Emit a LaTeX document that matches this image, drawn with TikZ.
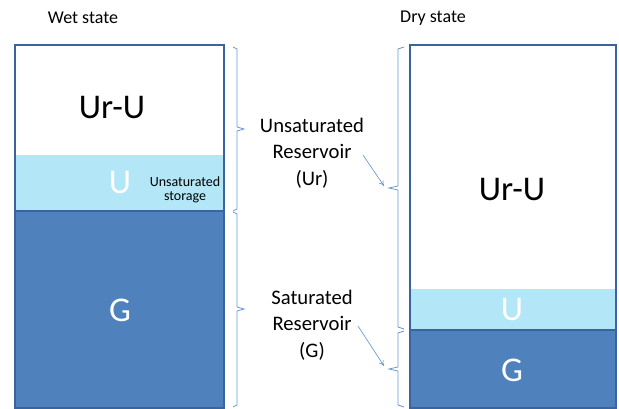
\documentclass[tikz,border=0pt]{standalone}
\usepackage{fontspec}
\setmainfont{Carlito}
\usetikzlibrary{arrows.meta}
\definecolor{dkb}{HTML}{4F81BD}
\definecolor{bord}{HTML}{3A64A0}
\definecolor{ltb}{HTML}{B3E6F7}
\definecolor{brc}{HTML}{6A98D0}
\tikzset{
  box/.style={draw=bord, line width=1.1pt},
  brace/.style={draw=brc, line width=0.6pt},
  big/.style={font=\fontsize{26}{30}\selectfont, inner sep=0pt},
  title/.style={font=\fontsize{13.5}{16}\selectfont, inner sep=0pt},
  lbl/.style={font=\fontsize{15.5}{20}\selectfont, align=center, inner sep=0pt},
  small/.style={font=\fontsize{10.5}{11}\selectfont, align=center, inner sep=0pt},
  pointer/.style={draw=brc, line width=0.5pt, -{To[length=4pt,width=4pt]}}
}
\begin{document}
\begin{tikzpicture}[x=0.75pt,y=-0.75pt]
\useasboundingbox (0,0) rectangle (619,409);
% titles
\node[title] (wet) at (83,18) {Wet state};
\node[title] (dry) at (433,18) {Dry state};
% left column
\fill[ltb] (15,155) rectangle (224,211);
\draw[box, fill=dkb] (15,211) rectangle (224,408);
\draw[box] (15,45) rectangle (224,408);
\node[big] (lur) at (112,108) {Ur-U};
\node[big, text=white] (lu) at (120,183) {U};
\node[small] (ls) at (185,190) {Unsaturated\\storage};
\node[big, text=white] (lg) at (120,310) {G};
% right column
\fill[ltb] (410,289) rectangle (616,330);
\draw[box, fill=dkb] (410,330) rectangle (616,408);
\draw[box] (410,45) rectangle (616,408);
\node[big] (rur) at (512,190) {Ur-U};
\node[big, text=white] (ru) at (512,310) {U};
\node[big, text=white] (rg) at (512,370) {G};
% left braces
\draw[brace] (233,47) -- (237,49) -- (237,127) -- (244,129) -- (237,131) -- (237,209) -- (233,211);
\draw[brace] (233,212) -- (237,214) -- (237,307) -- (244,309) -- (237,311) -- (237,405) -- (233,407);
% right braces
\coordinate (tipu) at (389,188);
\coordinate (tipg) at (389,369);
\draw[brace] (404,47) -- (398,49) -- (398,186) -- (tipu) -- (398,190) -- (398,327) -- (404,329);
\draw[brace] (404,331) -- (398,333) -- (398,367) -- (tipg) -- (398,371) -- (398,405) -- (404,407);
% labels
\node[lbl] (ur) at (312,153) {Unsaturated\\Reservoir\\(Ur)};
\node[lbl] (gr) at (312,325) {Saturated\\Reservoir\\(G)};
\coordinate (a1s) at (363,155);
\coordinate (a1e) at (384,186);
\coordinate (a2s) at (358,326);
\coordinate (a2e) at (384,366);
\draw[pointer] (a1s) -- (a1e);
\draw[pointer] (a2s) -- (a2e);
\end{tikzpicture}
\end{document}
